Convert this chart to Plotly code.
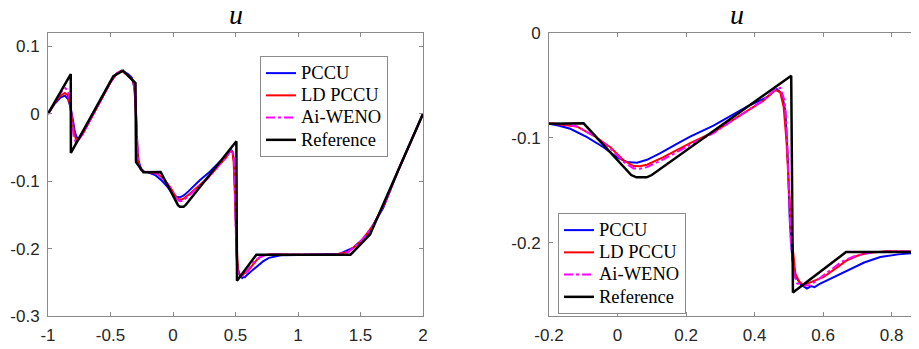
import plotly.graph_objects as go

# ---------------- data ----------------
ref_x = [-1.0, -0.818, -0.817, -0.477, -0.40, -0.30, -0.296, -0.237, -0.099,
         0.040, 0.055, 0.085, 0.100, 0.507, 0.512, 0.667, 1.42, 1.576, 2.0]
ref_y = [0.0, 0.059, -0.058, 0.056, 0.064, 0.0457, -0.0716, -0.0868, -0.0862,
         -0.1355, -0.1377, -0.1377, -0.1355, -0.0407, -0.2476, -0.2090, -0.2090, -0.179, 0.0]

pccu_x = [-1.0, -0.95, -0.90, -0.865, -0.84, -0.82, -0.80, -0.785, -0.77, -0.75, -0.72,
          -0.60, -0.50, -0.45, -0.41, -0.36, -0.33, -0.31, -0.295, -0.285, -0.275, -0.255,
          -0.23, -0.20, -0.17, -0.138, -0.089, -0.041, -0.002, 0.027, 0.057, 0.086, 0.125,
          0.173, 0.212, 0.28, 0.378, 0.436, 0.465, 0.48, 0.49, 0.497, 0.503, 0.51, 0.52,
          0.535, 0.553, 0.565, 0.575, 0.592, 0.63, 0.67, 0.72, 0.767, 0.82, 0.864, 1.0,
          1.2, 1.336, 1.443, 1.55, 1.683, 1.80, 2.0]
pccu_y = [0.0, 0.014, 0.024, 0.027, 0.022, 0.010, -0.010, -0.027, -0.035, -0.036, -0.028,
          0.013, 0.047, 0.060, 0.064, 0.059, 0.054, 0.040, 0.0, -0.050, -0.070, -0.082,
          -0.086, -0.0866, -0.0885, -0.0914, -0.0994, -0.109, -0.1185, -0.123, -0.1238, -0.121, -0.1147,
          -0.1057, -0.0988, -0.0883, -0.0702, -0.0613, -0.0535, -0.058, -0.075, -0.12, -0.18, -0.215, -0.232,
          -0.240, -0.2438, -0.2415, -0.2425, -0.239, -0.233, -0.2264, -0.219, -0.2137, -0.2112, -0.2100, -0.2093,
          -0.2088, -0.2075, -0.1985, -0.181, -0.139, -0.0845, 0.0]

ldpccu_x = [-1.0, -0.95, -0.90, -0.865, -0.845, -0.825, -0.805, -0.79, -0.775, -0.755, -0.72,
            -0.60, -0.50, -0.45, -0.41, -0.36, -0.32, -0.305, -0.297, -0.29, -0.28, -0.26,
            -0.23, -0.20, -0.16, -0.119, -0.07, -0.021, 0.018, 0.047, 0.065, 0.086, 0.134,
            0.183, 0.212, 0.28, 0.378, 0.426, 0.46, 0.475, 0.485, 0.493, 0.499, 0.505, 0.51,
            0.519, 0.53, 0.543, 0.57, 0.602, 0.635, 0.67, 0.70, 0.728, 0.786, 0.85, 1.0,
            1.3, 1.40, 1.50, 1.60, 1.70, 1.80, 2.0]
ldpccu_y = [0.0, 0.015, 0.027, 0.031, 0.028, 0.015, -0.010, -0.030, -0.038, -0.038, -0.029,
            0.013, 0.047, 0.060, 0.064, 0.057, 0.050, 0.035, 0.0, -0.050, -0.070, -0.082,
            -0.086, -0.0862, -0.0875, -0.0892, -0.0978, -0.109, -0.1217, -0.127, -0.1272, -0.1257, -0.1185,
            -0.110, -0.105, -0.0947, -0.074, -0.0645, -0.0543, -0.0565, -0.0709, -0.1026, -0.14, -0.18, -0.20,
            -0.2296, -0.237, -0.2406, -0.237, -0.2327, -0.225, -0.2168, -0.2125, -0.210, -0.2083, -0.2085, -0.2090,
            -0.2088, -0.205, -0.190, -0.166, -0.130, -0.0845, 0.0]

aiweno_x = [-1.0, -0.95, -0.90, -0.86, -0.84, -0.825, -0.81, -0.795, -0.78, -0.76, -0.72,
            -0.60, -0.50, -0.45, -0.41, -0.36, -0.32, -0.305, -0.297, -0.29, -0.28, -0.26,
            -0.23, -0.20, -0.16, -0.12, -0.07, -0.021, 0.018, 0.047, 0.065, 0.086, 0.134,
            0.183, 0.212, 0.28, 0.378, 0.426, 0.46, 0.475, 0.488, 0.495, 0.50, 0.506, 0.515,
            0.524, 0.545, 0.563, 0.59, 0.621, 0.655, 0.691, 0.747, 0.80, 1.0,
            1.3, 1.40, 1.50, 1.60, 1.70, 1.80, 2.0]
aiweno_y = [0.0, 0.016, 0.031, 0.038, 0.034, 0.020, -0.010, -0.033, -0.041, -0.040, -0.029,
            0.013, 0.047, 0.060, 0.064, 0.057, 0.050, 0.035, 0.0, -0.050, -0.070, -0.082,
            -0.086, -0.0862, -0.087, -0.089, -0.098, -0.110, -0.123, -0.1292, -0.1295, -0.128, -0.1205,
            -0.112, -0.1065, -0.0955, -0.074, -0.064, -0.054, -0.0524, -0.065, -0.10, -0.15, -0.20, -0.23,
            -0.239, -0.241, -0.2406, -0.234, -0.226, -0.218, -0.213, -0.209, -0.2085, -0.2090,
            -0.2088, -0.205, -0.190, -0.166, -0.130, -0.0845, 0.0]

series_names = ["PCCU", "LD PCCU", "Ai-WENO", "Reference"]
series_colors = ["#0000ff", "#ff0000", "#ff00ff", "#000000"]

left_xticks = [-1, -0.5, 0, 0.5, 1, 1.5, 2]
left_xticklabels = ["-1", "-0.5", "0", "0.5", "1", "1.5", "2"]
left_yticks = [-0.3, -0.2, -0.1, 0, 0.1]
left_yticklabels = ["-0.3", "-0.2", "-0.1", "0", "0.1"]
right_xticks = [-0.2, 0, 0.2, 0.4, 0.6, 0.8]
right_xticklabels = ["-0.2", "0", "0.2", "0.4", "0.6", "0.8"]
right_yticks = [-0.2, -0.1, 0]
right_yticklabels = ["-0.2", "-0.1", "0"]

title_text = "u"

# ---------------- figure ----------------
# the page body has an 8 px margin, so the figure is 911 x 341 and all
# positions below are page pixels minus 8
W, H, OFF = 911, 341, 8


def px(v):
    return (v - OFF) / W


def py(v):
    return 1 - (v - OFF) / H


fig = go.Figure()
data = [(pccu_x, pccu_y), (ldpccu_x, ldpccu_y), (aiweno_x, aiweno_y), (ref_x, ref_y)]
widths = [2, 2, 2, 2.5]
dashes = ["solid", "solid", "dashdot", "solid"]

for xa, ya, leg in [("x", "y", "legend"), ("x2", "y2", "legend2")]:
    for (xs, ys), name, col, w, d in zip(data, series_names, series_colors, widths, dashes):
        fig.add_trace(go.Scatter(
            x=xs, y=ys, mode="lines", xaxis=xa, yaxis=ya, legend=leg,
            name='<span style="font-size:18.5px">' + name + '</span>',
            line=dict(color=col, width=w, dash=d), showlegend=True))

tickfont = dict(family="Liberation Sans, Arial", size=17, color="#262626")
axis_common = dict(showline=True, linecolor="#8a8a8a", linewidth=1, mirror="ticks",
                   ticks="inside", ticklen=4, tickcolor="#8a8a8a", showgrid=False,
                   zeroline=False, tickfont=tickfont, automargin=False,
                   ticklabelstandoff=4)

legfont = dict(family="Liberation Serif", size=14.8, color="#000")
ydom = [py(316), py(33)]
fig.update_layout(
    width=W, height=H,
    margin=dict(l=0, r=0, t=0, b=0, autoexpand=False),
    paper_bgcolor="white", plot_bgcolor="white",
    xaxis=dict(domain=[px(48), px(423)], range=[-1, 2], anchor="y",
               tickvals=left_xticks, ticktext=left_xticklabels, **axis_common),
    yaxis=dict(domain=ydom, range=[-0.3, 0.12], anchor="x",
               tickvals=left_yticks, ticktext=left_yticklabels, **axis_common),
    xaxis2=dict(domain=[px(549), 1.0], range=[-0.2, 0.88], anchor="y2",
                tickvals=right_xticks, ticktext=right_xticklabels, **axis_common),
    yaxis2=dict(domain=ydom, range=[-0.27, 0.0], anchor="x2",
                tickvals=right_yticks, ticktext=right_yticklabels, **axis_common),
    legend=dict(x=px(260), y=py(56), xanchor="left", yanchor="top",
                bgcolor="white", bordercolor="#8a8a8a", borderwidth=1,
                font=legfont, tracegroupgap=0, itemwidth=30),
    legend2=dict(x=px(558), y=py(213), xanchor="left", yanchor="top",
                 bgcolor="white", bordercolor="#8a8a8a", borderwidth=1,
                 font=legfont, tracegroupgap=0, itemwidth=30),
    annotations=[
        dict(text="<i>" + title_text + "</i>", x=px(236), y=py(15), xref="paper", yref="paper",
             xanchor="center", yanchor="middle",
             showarrow=False, font=dict(family="Liberation Serif", size=28, color="#000")),
        dict(text="<i>" + title_text + "</i>", x=px(737), y=py(15), xref="paper", yref="paper",
             xanchor="center", yanchor="middle",
             showarrow=False, font=dict(family="Liberation Serif", size=28, color="#000")),
    ],
)

fig.write_html("out.html")
